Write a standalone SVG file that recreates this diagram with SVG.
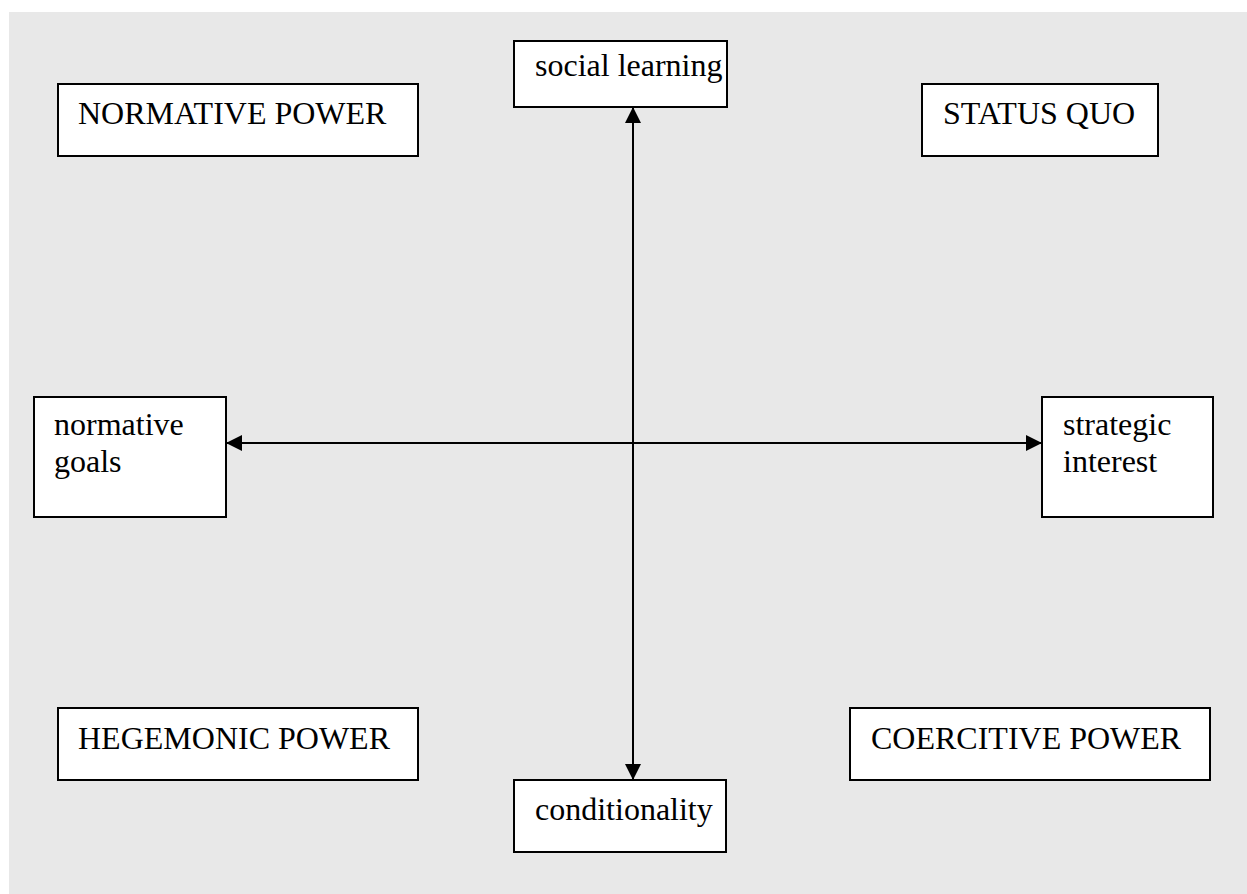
<svg xmlns="http://www.w3.org/2000/svg" width="1247" height="894" viewBox="0 0 1247 894">
<style>
.box{fill:#ffffff;stroke:#000000;stroke-width:2}
text{font-family:"Liberation Serif","DejaVu Serif","Times New Roman",serif;font-size:32px;fill:#000000}
.c{stroke:#000000;stroke-width:2;fill:none}
</style>
<defs>
<marker id="ah" viewBox="0 0 16 16" refX="15" refY="8" markerWidth="16" markerHeight="16" markerUnits="userSpaceOnUse" orient="auto-start-reverse">
<path d="M0,0 L16,8 L0,16 z" fill="#000000"/>
</marker>
</defs>
<rect x="9" y="12" width="1238" height="882" fill="#e8e8e8"/>
<g id="connectors">
<line class="c" x1="227" y1="443" x2="1041" y2="443" marker-start="url(#ah)" marker-end="url(#ah)"/>
<line class="c" x1="633" y1="108" x2="633" y2="779" marker-start="url(#ah)" marker-end="url(#ah)"/>
</g>
<g id="social-learning">
<rect class="box" x="514" y="41" width="213" height="66"/>
<text x="535" y="76" font-family="Liberation Serif, serif">social learning</text>
</g>
<g id="normative-power">
<rect class="box" x="58" y="84" width="360" height="72"/>
<text x="78" y="124" font-family="Liberation Serif, serif">NORMATIVE POWER</text>
</g>
<g id="status-quo">
<rect class="box" x="922" y="84" width="236" height="72"/>
<text x="943" y="124" font-family="Liberation Serif, serif">STATUS QUO</text>
</g>
<g id="normative-goals">
<rect class="box" x="34" y="397" width="192" height="120"/>
<text x="54" y="435" font-family="Liberation Serif, serif">normative</text>
<text x="54" y="472" font-family="Liberation Serif, serif">goals</text>
</g>
<g id="strategic-interest">
<rect class="box" x="1042" y="397" width="171" height="120"/>
<text x="1063" y="435" font-family="Liberation Serif, serif">strategic</text>
<text x="1063" y="472" font-family="Liberation Serif, serif">interest</text>
</g>
<g id="hegemonic-power">
<rect class="box" x="58" y="708" width="360" height="72"/>
<text x="78" y="749" font-family="Liberation Serif, serif">HEGEMONIC POWER</text>
</g>
<g id="coercitive-power">
<rect class="box" x="850" y="708" width="360" height="72"/>
<text x="871" y="749" font-family="Liberation Serif, serif">COERCITIVE POWER</text>
</g>
<g id="conditionality">
<rect class="box" x="514" y="780" width="212" height="72"/>
<text x="535" y="820" font-family="Liberation Serif, serif">conditionality</text>
</g>
</svg>
